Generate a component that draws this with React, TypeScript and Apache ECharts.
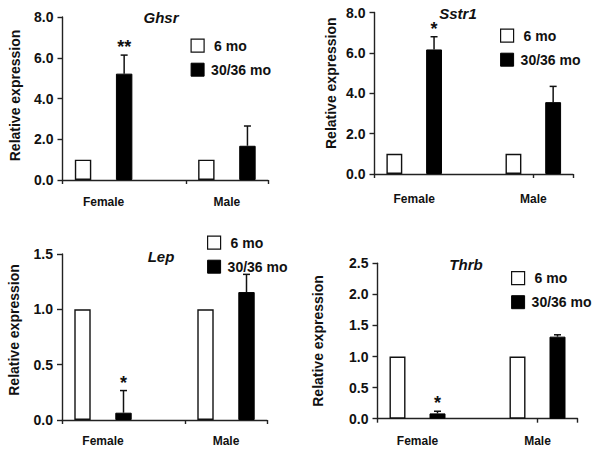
import React, { useEffect, useRef } from "react";
import * as echarts from "echarts";

const genes = ["Ghsr", "Sstr1", "Lep", "Thrb"];
const groups = ["Female", "Male"];
const slots = ["Female 6 mo", "Female 30/36 mo", "", "Male 6 mo", "Male 30/36 mo"];
const youngValues = [[1, 1], [1, 1], [1, 1], [1, 1]];
const oldValues = [[5.22, 1.68], [6.17, 3.56], [0.066, 1.156], [0.085, 1.32]];
const oldErrors = [[0.91, 0.97], [0.63, 0.78], [0.2, 0.16], [0.035, 0.03]];
const significance = [["**", ""], ["*", ""], ["*", ""], ["*", ""]];
const yMax = [8, 8, 1.5, 2.5];
const yStep = [2, 2, 0.5, 0.5];

const FONT = '"Liberation Sans", Arial, sans-serif';

// layout (pixels)
const grids = [
  { left: 62.5, top: 17, width: 205.5, height: 163 },
  { left: 374.5, top: 12.5, width: 198.5, height: 161.5 },
  { left: 62, top: 254, width: 205, height: 166 },
  { left: 377.5, top: 263.3, width: 200, height: 155.4 },
];
const nameGaps = [41, 37, 41, 53];
const namePads = [[0, 0, 0, 6], [0, 0, 0, 20], [0, 0, 0, 14], [0, 0, 0, 0]];
const xLabelMargins = [16, 19, 15, 16];
const legendPos = [
  { left: 190.5, top: 38.5 },
  { left: 500, top: 28.5 },
  { left: 207, top: 235.5 },
  { left: 511, top: 271 },
];
const titlePos = [
  { x: 161, y: 17 },
  { x: 458, y: 13 },
  { x: 161, y: 256 },
  { x: 466, y: 264 },
];

export default function App() {
  const ref = useRef<HTMLDivElement>(null);
  useEffect(() => {
    if (!ref.current) return;
    const chart = echarts.init(ref.current, null, { renderer: "svg" });
    const axisLine = { show: true, lineStyle: { color: "#222", width: 1.4 } };
    const xAxis: any[] = [];
    const yAxis: any[] = [];
    const series: any[] = [];
    const legend: any[] = [];
    genes.forEach((g, i) => {
      xAxis.push({
        type: "category",
        gridIndex: i,
        data: slots,
        boundaryGap: true,
        axisLine,
        axisTick: { show: true, length: 4, lineStyle: { color: "#222", width: 1.4 } },
        axisLabel: { show: false },
      });
      xAxis.push({
        type: "value",
        gridIndex: i,
        position: "bottom",
        min: 0,
        max: 5,
        interval: 1,
        axisLine: { show: false },
        axisTick: { show: false },
        splitLine: { show: false },
        axisLabel: {
          margin: xLabelMargins[i],
          fontFamily: FONT,
          fontWeight: "bold",
          fontSize: 12,
          color: "#111",
          formatter: (v: number) => (v === 1 ? groups[0] : v === 4 ? groups[1] : ""),
        },
      });
      yAxis.push({
        type: "value",
        gridIndex: i,
        min: 0,
        max: yMax[i],
        interval: yStep[i],
        axisLine,
        axisTick: { show: true, length: 5, lineStyle: { color: "#222", width: 1.4 } },
        splitLine: { show: false },
        axisLabel: {
          margin: 9,
          fontFamily: FONT,
          fontWeight: "bold",
          fontSize: 14,
          color: "#111",
          formatter: (v: number) => v.toFixed(1),
        },
        name: "Relative expression",
        nameLocation: "middle",
        nameRotate: 90,
        nameGap: nameGaps[i],
        nameTextStyle: {
          fontFamily: FONT,
          fontWeight: "bold",
          fontSize: 14,
          color: "#111",
          padding: namePads[i],
        },
      });
      series.push({
        type: "bar",
        name: "6 mo",
        xAxisIndex: 2 * i,
        yAxisIndex: i,
        barWidth: "40%",
        barGap: "-100%",
        data: [youngValues[i][0], "-", "-", youngValues[i][1], "-"],
        itemStyle: { color: "#fff", borderColor: "#111", borderWidth: 1.4 },
      });
      series.push({
        type: "bar",
        name: "30/36 mo",
        xAxisIndex: 2 * i,
        yAxisIndex: i,
        barWidth: "40%",
        barGap: "-100%",
        data: ["-", oldValues[i][0], "-", "-", oldValues[i][1]],
        itemStyle: { color: "#000", borderColor: "#000", borderWidth: 1 },
      });
      const sigs = significance[i];
      series.push({
        type: "custom",
        name: "err" + i,
        xAxisIndex: 2 * i,
        yAxisIndex: i,
        data: [
          [1, oldValues[i][0], oldErrors[i][0]],
          [4, oldValues[i][1], oldErrors[i][1]],
        ],
        renderItem: (params: any, api: any) => {
          const x = api.value(0);
          const v = api.value(1);
          const e = api.value(2);
          const base = api.coord([x, v]);
          const top = api.coord([x, v + e]);
          const cap = 3.5;
          const st = { stroke: "#111", lineWidth: 1.5 };
          return {
            type: "group",
            children: [
              { type: "line", shape: { x1: base[0], y1: base[1], x2: top[0], y2: top[1] }, style: st },
              { type: "line", shape: { x1: top[0] - cap, y1: top[1], x2: top[0] + cap, y2: top[1] }, style: st },
              {
                type: "text",
                x: top[0],
                y: top[1] + 1,
                style: {
                  text: sigs[params.dataIndex],
                  align: "center",
                  verticalAlign: "bottom",
                  fontFamily: FONT,
                  fontWeight: "bold",
                  fontSize: 18,
                  fill: "#111",
                },
              },
            ],
          };
        },
      });
      legend.push({
        orient: "vertical",
        left: legendPos[i].left,
        top: legendPos[i].top,
        padding: 0,
        itemWidth: 13,
        itemHeight: 13,
        itemGap: 10,
        selectedMode: false,
        textStyle: {
          fontFamily: FONT,
          fontWeight: "bold",
          fontSize: 14,
          color: "#111",
          padding: [0, 0, 0, 2],
          rich: { a: { fontFamily: FONT, fontWeight: "bold", fontSize: 14, color: "#111", padding: [0, 0, 0, 3] } },
        },
        data: [
          { name: "6 mo", icon: "rect", itemStyle: { color: "#fff", borderColor: "#111", borderWidth: 1.2 } },
          { name: "30/36 mo", icon: "rect", itemStyle: { color: "#000", borderColor: "#000", borderWidth: 1 } },
        ],
        formatter: (n: string) => (n === "6 mo" ? "{a|6 mo}" : n),
      });
    });
    chart.setOption({
      animation: false,
      backgroundColor: "#fff",
      grid: grids.map((g) => ({ ...g, containLabel: false })),
      xAxis,
      yAxis,
      series,
      legend,
      graphic: genes.map((g, i) => ({
        type: "text",
        x: titlePos[i].x,
        y: titlePos[i].y,
        style: {
          text: g,
          align: "center",
          verticalAlign: "middle",
          fontFamily: FONT,
          fontWeight: "bold",
          fontStyle: "italic",
          fontSize: 15,
          fill: "#111",
        },
      })),
    });
    return () => chart.dispose();
  }, []);
  return (
    <div
      ref={ref}
      style={{ position: "fixed", left: 0, top: 0, width: 601, height: 451, background: "#fff" }}
    />
  );
}
